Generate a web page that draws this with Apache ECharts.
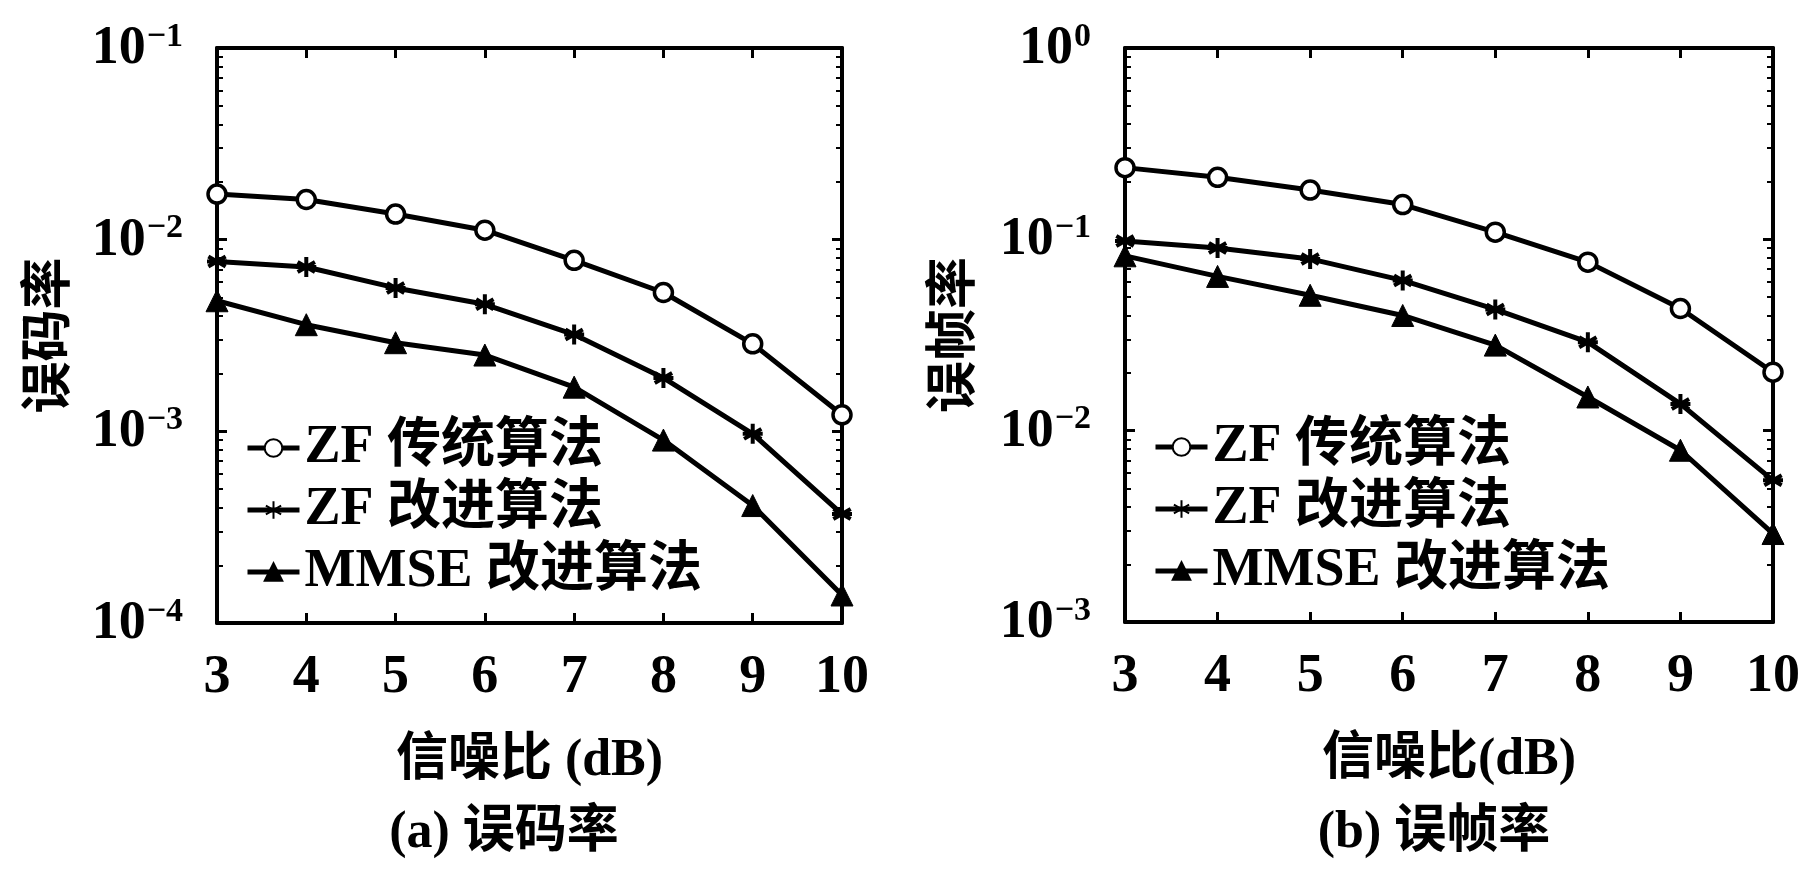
<!DOCTYPE html>
<html>
<head>
<meta charset="utf-8">
<script src="https://cdn.jsdelivr.net/npm/echarts@6/dist/echarts.min.js"></script>
<style>
html,body{margin:0;padding:0;background:#fff;}
#c{width:1803px;height:871px;}
</style>
</head>
<body>
<div id="c"></div>
<script>
// ---- data ----
const snr = [3, 4, 5, 6, 7, 8, 9, 10];
const seriesNames = ['ZF 传统算法', 'ZF 改进算法', 'MMSE 改进算法'];
// (a) 误码率
const berZfTrad = [0.0173, 0.0162, 0.0136, 0.0112, 0.0078, 0.0053, 0.00286, 0.00122];
const berZfImp  = [0.0077, 0.0072, 0.0056, 0.0046, 0.0032, 0.0019, 0.00097, 0.00037];
const berMmse   = [0.0048, 0.0036, 0.0029, 0.0025, 0.0017, 0.0009, 0.00041, 0.00014];
// (b) 误帧率
const ferZfTrad = [0.237, 0.211, 0.181, 0.152, 0.109, 0.076, 0.0435, 0.0202];
const ferZfImp  = [0.098, 0.090, 0.079, 0.061, 0.043, 0.029, 0.0138, 0.0055];
const ferMmse   = [0.082, 0.064, 0.051, 0.040, 0.028, 0.015, 0.0079, 0.0029];
// ticks
const xTicks = [3, 4, 5, 6, 7, 8, 9, 10];
const berMajor = [1e-4, 1e-3, 1e-2, 1e-1];
const ferMajor = [1e-3, 1e-2, 1e-1, 1e0];
const xLabelA = '信噪比 (dB)';
const xLabelB = '信噪比(dB)';
const yLabelA = '误码率';
const yLabelB = '误帧率';
const captionA = '(a) 误码率';
const captionB = '(b) 误帧率';

// ---- helpers ----
const FONT = "'Liberation Serif', 'Noto Sans CJK SC', serif";
const FS = 54;
function minorOf(major) {
  const out = [];
  for (let i = 0; i < major.length - 1; i++) {
    for (let k = 2; k <= 9; k++) out.push(major[i] * k);
  }
  return out;
}
function pairs(ys) { return snr.map((x, i) => [x, ys[i]]); }
function expLabel(v) {
  const e = Math.round(Math.log10(v));
  const s = e < 0 ? '\u2212' + (-e) : String(e);
  return '{b|10}{s|' + s + '}';
}
const rich = {
  b: {fontFamily: FONT, fontSize: FS, fontWeight: 'bold', color: '#000', lineHeight: 56, verticalAlign: 'bottom'},
  s: {fontFamily: FONT, fontSize: 34, fontWeight: 'bold', color: '#000', lineHeight: 34, verticalAlign: 'top', padding: [0, 0, 0, 1]}
};
const grids = [
  {left: 217, top: 48, width: 625, height: 575},
  {left: 1125, top: 48, width: 648, height: 574}
];
const asterisk = 'path://M0,-10L0,10M-8.66,-5L8.66,5M-8.66,5L8.66,-5M-10,0L10,0';
const symbols = ['circle', asterisk, 'triangle'];
const symSizes = [18, 20, 22];

const xAxis = [], yAxis = [], series = [], legend = [];
const yRanges = [[1e-4, 1e-1], [1e-3, 1e0]];
const majors = [berMajor, ferMajor];
const xNames = [xLabelA, xLabelB];
const yNames = [yLabelA, yLabelB];
const yNameGaps = [139, 142];
const dataSets = [[berZfTrad, berZfImp, berMmse], [ferZfTrad, ferZfImp, ferMmse]];

for (let g = 0; g < 2; g++) {
  xAxis.push({
    type: 'value', gridIndex: g, min: 3, max: 10, interval: 1, position: 'bottom',
    axisLine: {show: true, lineStyle: {color: '#000', width: 4}},
    axisTick: {show: true, inside: true, length: 10, lineStyle: {color: '#000', width: 3}},
    axisLabel: {show: true, margin: 28, fontFamily: FONT, fontSize: FS, fontWeight: 'bold', color: '#000'},
    splitLine: {show: false},
    name: xNames[g], nameLocation: 'middle', nameGap: 113,
    nameTextStyle: {fontFamily: FONT, fontSize: 52, fontWeight: 'bold', color: '#000'}
  });
  xAxis.push({
    type: 'value', gridIndex: g, min: 3, max: 10, interval: 1, position: 'top',
    axisLine: {show: true, lineStyle: {color: '#000', width: 4}},
    axisTick: {show: true, inside: true, length: 10, lineStyle: {color: '#000', width: 3}},
    axisLabel: {show: false}, splitLine: {show: false}
  });
  const [ymin, ymax] = yRanges[g];
  yAxis.push({
    type: 'log', logBase: 10, gridIndex: g, min: ymin, max: ymax, position: 'left',
    axisLine: {show: true, lineStyle: {color: '#000', width: 4}},
    axisTick: {show: true, inside: true, length: 10, customValues: majors[g], lineStyle: {color: '#000', width: 3}},
    axisLabel: {show: true, margin: 34, customValues: majors[g], formatter: expLabel, rich: rich},
    splitLine: {show: false},
    name: yNames[g], nameLocation: 'middle', nameGap: yNameGaps[g],
    nameTextStyle: {fontFamily: FONT, fontSize: 52, fontWeight: 'bold', color: '#000'}
  });
  yAxis.push({
    type: 'log', logBase: 10, gridIndex: g, min: ymin, max: ymax, position: 'left',
    axisLine: {show: false},
    axisTick: {show: true, inside: true, length: 6, customValues: minorOf(majors[g]), lineStyle: {color: '#000', width: 2}},
    axisLabel: {show: false}, splitLine: {show: false}
  });
  yAxis.push({
    type: 'log', logBase: 10, gridIndex: g, min: ymin, max: ymax, position: 'right',
    axisLine: {show: true, lineStyle: {color: '#000', width: 4}},
    axisTick: {show: true, inside: true, length: 10, customValues: majors[g], lineStyle: {color: '#000', width: 3}},
    axisLabel: {show: false}, splitLine: {show: false}
  });
  yAxis.push({
    type: 'log', logBase: 10, gridIndex: g, min: ymin, max: ymax, position: 'right',
    axisLine: {show: false},
    axisTick: {show: true, inside: true, length: 6, customValues: minorOf(majors[g]), lineStyle: {color: '#000', width: 2}},
    axisLabel: {show: false}, splitLine: {show: false}
  });
  for (let s = 0; s < 3; s++) {
    series.push({
      type: 'line', name: seriesNames[s], xAxisIndex: g * 2, yAxisIndex: g * 4,
      data: pairs(dataSets[g][s]),
      symbol: symbols[s], symbolSize: symSizes[s], showAllSymbol: true,
      lineStyle: {color: '#000', width: 5},
      itemStyle: s === 0 ? {color: '#fff', borderColor: '#000', borderWidth: 3.5}
                : s === 1 ? {color: '#000', borderColor: '#000', borderWidth: 4}
                : {color: '#000', borderColor: '#000', borderWidth: 1},
      emphasis: {disabled: true}, animation: false, z: 5
    });
  }
}
const legendCommon = {
  orient: 'vertical', itemWidth: 52, itemHeight: 22, itemGap: 6, padding: 0,
  data: seriesNames, selectedMode: false,
  lineStyle: {width: 5, color: '#000'},
  textStyle: {fontFamily: FONT, fontSize: FS, fontWeight: 'bold', color: '#000', lineHeight: 56}
};
legend.push(Object.assign({left: 245, top: 420}, legendCommon));
legend.push(Object.assign({left: 1153, top: 419}, legendCommon));

const chart = echarts.init(document.getElementById('c'), null, {renderer: 'canvas'});
chart.setOption({
  backgroundColor: '#fff',
  animation: false,
  grid: grids,
  xAxis: xAxis,
  yAxis: yAxis,
  legend: legend,
  series: series,
  graphic: [
    {type: 'text', x: 504, y: 834, style: {text: captionA, align: 'center', verticalAlign: 'middle', fontFamily: FONT, fontSize: 52, fontWeight: 'bold', fill: '#000'}},
    {type: 'text', x: 1434, y: 834, style: {text: captionB, align: 'center', verticalAlign: 'middle', fontFamily: FONT, fontSize: 52, fontWeight: 'bold', fill: '#000'}}
  ]
});
</script>
</body>
</html>
